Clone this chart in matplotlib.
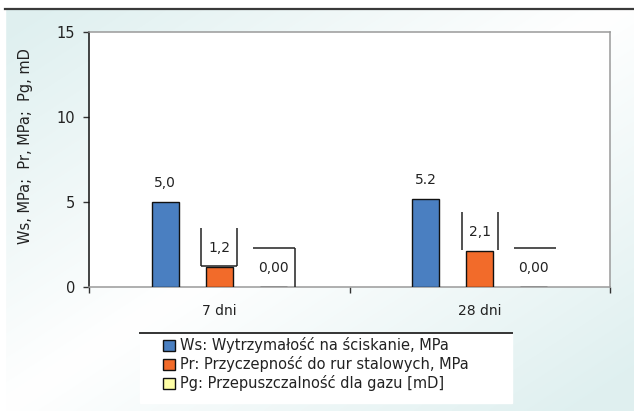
import numpy as np
import matplotlib
matplotlib.use("Agg")
import matplotlib.pyplot as plt
from matplotlib.patches import Rectangle
from matplotlib.lines import Line2D

# Data
categories = ["7 dni", "28 dni"]
ws_values = [5.0, 5.2]     # compressive strength, MPa
pr_values = [1.2, 2.1]     # bond to steel pipes, MPa
pg_values = [0.0, 0.0]     # gas permeability, mD
ws_labels = ["5,0", "5.2"]
pr_labels = ["1,2", "2,1"]
pg_labels = ["0,00", "0,00"]
series_names = [
    "Ws: Wytrzymałość na ściskanie, MPa",
    "Pr: Przyczepność do rur stalowych, MPa",
    "Pg: Przepuszczalność dla gazu [mD]",
]
y_ticks = [0, 5, 10, 15]

colors = ["#4a7fc1", "#f26b2a", "#ffffa6"]

W, H = 634, 411
fig = plt.figure(figsize=(W / 100, H / 100), dpi=100)

# Soft diagonal gradient background
bg = fig.add_axes([0, 0, 1, 1], zorder=-10)
u, v = np.meshgrid(np.linspace(0, 1, 300), np.linspace(1, 0, 200))
a = np.clip(np.abs(u - v) * 1.1, 0, 1)
teal = np.array([0.875, 0.94, 0.94])
white = np.array([1.0, 1.0, 1.0])
img = white[None, None, :] * (1 - a[..., None]) + teal[None, None, :] * a[..., None]
bg.imshow(img, aspect="auto", extent=[0, 1, 0, 1], interpolation="bilinear")
bg.add_patch(Rectangle((0, 1 - 8 / H), 1, 8 / H, color="white", transform=bg.transAxes))
bg.add_patch(Rectangle((0, 0), 5 / W, 1 - 8 / H, color="white", transform=bg.transAxes))
bg.add_line(Line2D([5 / W, 1], [1 - 9 / H, 1 - 9 / H], color="#3a3a3a", lw=1.6,
                   transform=bg.transAxes))
bg.set_xlim(0, 1)
bg.set_ylim(0, 1)
bg.axis("off")

ax = fig.add_axes([89 / W, (H - 287) / H, (610 - 89) / W, (287 - 32) / H])
ax.set_facecolor("white")
ax.set_xlim(-0.5, 1.5)
ax.set_ylim(0, 15)

x = np.arange(len(categories))
width = 0.104
offsets = [-0.207, 0.0, 0.207]
all_values = [ws_values, pr_values, pg_values]
all_labels = [ws_labels, pr_labels, pg_labels]

for vals, off, col, name in zip(all_values, offsets, colors, series_names):
    ax.bar(x + off, vals, width, color=col, edgecolor="#111111",
           linewidth=1.0, label=name, zorder=3)

# Value labels, with the partial frames drawn around some of them (pixel offsets)
frames = {
    (1, 0): ("l", "r", "b"),
    (2, 0): ("t", "r"),
    (1, 1): ("l", "r"),
    (2, 1): ("t",),
}
half_w = {0: 18, 1: 18, 2: 22}
inv = ax.transData.inverted()
for s, (vals, labs) in enumerate(zip(all_values, all_labels)):
    for i, (val, lab) in enumerate(zip(vals, labs)):
        xc = x[i] + offsets[s]
        ax.annotate(lab, (xc, val), xytext=(0, 19 * 0.72), textcoords="offset points",
                    ha="center", va="center", fontsize=10, color="#222222", zorder=5)
        sides = frames.get((s, i))
        if not sides:
            continue
        hw = half_w[s]
        segs = {
            "l": ([-hw, -hw], [1, 39]),
            "r": ([hw, hw], [1 - (20 if s == 2 else 0), 39]),
            "b": ([-hw, hw], [1, 1]),
            "t": ([-hw + (2 if s == 2 else 0), hw], [39, 39]),
        }
        anchor = ax.transData.transform((xc, val))
        for side in sides:
            dx, dy = segs[side]
            p0 = inv.transform(anchor + np.array([dx[0], dy[0]]))
            p1 = inv.transform(anchor + np.array([dx[1], dy[1]]))
            ax.plot([p0[0], p1[0]], [max(p0[1], 0), max(p1[1], 0)], color="#222222",
                    lw=1.1, zorder=4, clip_on=False, solid_capstyle="butt")

ax.set_yticks(y_ticks)
ax.set_yticklabels([str(t) for t in y_ticks], fontsize=10.5, color="#222222")
ax.set_xticks([-0.5, 0.5, 1.5])
ax.set_xticklabels([])
ax.set_xticks(x, minor=True)
ax.set_xticklabels(categories, minor=True, fontsize=10, color="#222222")
ax.tick_params(axis="x", which="minor", length=0, pad=12)
ax.tick_params(axis="x", which="major", length=4, width=1, color="#333333", direction="out")
ax.tick_params(axis="y", length=4, width=1, color="#333333", direction="out", pad=6)

ax.spines["left"].set_color("#111111")
ax.spines["left"].set_linewidth(1.1)
for sp in ("top", "right", "bottom"):
    ax.spines[sp].set_color("#9a9a9a")
    ax.spines[sp].set_linewidth(1.1)

fig.text(26 / W, 1 - 146 / H, "Ws, MPa;  Pr, MPa;  Pg, mD", rotation=90,
         ha="center", va="center", fontsize=10.5, color="#222222")

# Legend box: white panel with a dark top rule
lx0, lx1, ly0, ly1 = 140, 512, 333, 403
bg.add_patch(Rectangle((lx0 / W, 1 - ly1 / H), (lx1 - lx0) / W, (ly1 - ly0) / H,
                       color="white", transform=bg.transAxes, zorder=2))
bg.add_line(Line2D([lx0 / W, lx1 / W], [1 - ly0 / H, 1 - ly0 / H], color="#333333",
                   lw=1.4, transform=bg.transAxes, zorder=3))
leg = fig.legend(loc="upper left", bbox_to_anchor=(162 / W, 1 - 336 / H),
                 frameon=False, fontsize=10.5, handlelength=0.8, handleheight=0.8,
                 handletextpad=0.3, labelspacing=0.2, borderpad=0.1,
                 borderaxespad=0)
for t in leg.get_texts():
    t.set_color("#222222")

fig.savefig("out.png", dpi=100)
